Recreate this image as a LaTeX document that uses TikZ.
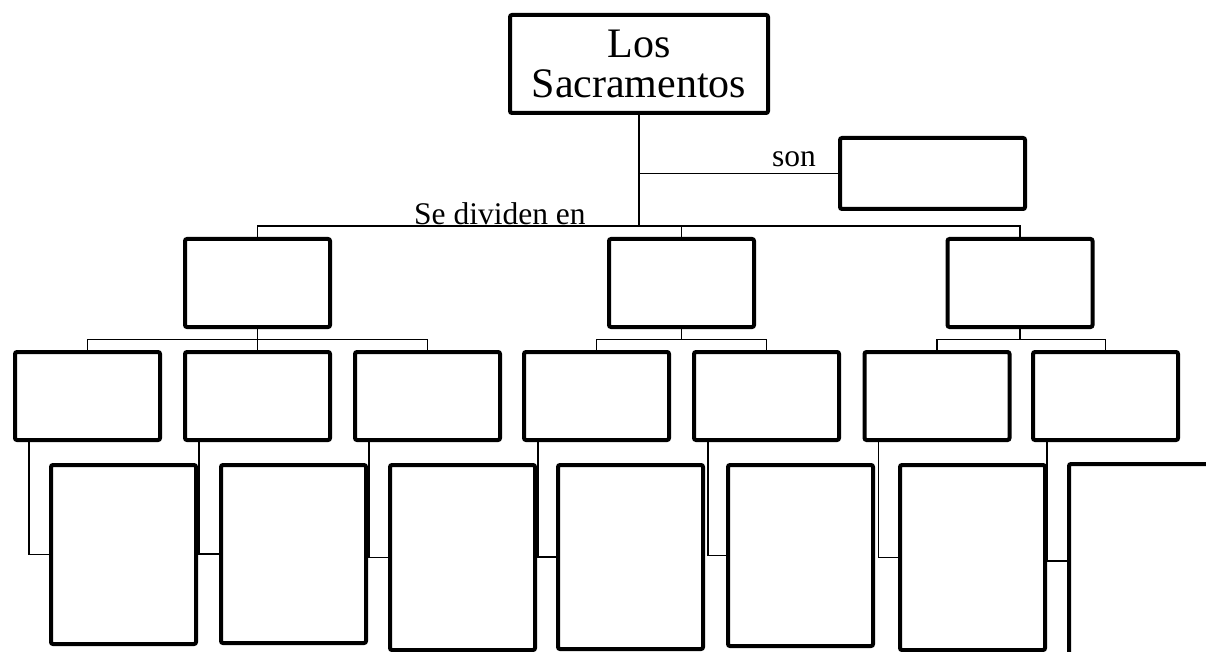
\documentclass[tikz,border=0pt]{standalone}
\usepackage{fontspec}
\setmainfont{Liberation Serif}
\usetikzlibrary{calc}
\begin{document}
\begin{tikzpicture}[x=1pt,y=-1pt,
  box/.style={draw, line width=4pt, rounded corners=2pt, inner sep=0pt,
              minimum width=145pt, minimum height=88pt},
  tallbox/.style={box, minimum height=#1},
  conn/.style={line width=1.4pt},
  lbl/.style={anchor=base west, inner sep=0pt, font=\fontsize{31.5}{34}\selectfont}]
\useasboundingbox (0,0) rectangle (1206,652);
\clip (0,0) rectangle (1206,652);

% root and side box
\node[box, minimum width=258pt, minimum height=98pt, align=center,
      font=\fontsize{42}{40}\selectfont] (top) at (639,64) {Los\\Sacramentos};
\node[box, minimum width=185pt, minimum height=71pt] (son) at (932.5,173.5) {};

% level 1
\node[box] (a) at (257.5,283) {};
\node[box] (b) at (681.5,283) {};
\node[box] (c) at (1020,283) {};

% level 2
\node[box] (a1) at (87.5,396) {};
\node[box] (a2) at (257.5,396) {};
\node[box] (a3) at (427.5,396) {};
\node[box] (b1) at (596.5,396) {};
\node[box] (b2) at (766.5,396) {};
\node[box] (c1) at (937,396) {};
\node[box] (c2) at (1105.5,396) {};

% level 3
\node[tallbox=179pt] (d1) at (123.5,554.5) {};
\node[tallbox=178pt] (d2) at (293.5,554) {};
\node[tallbox=185pt] (d3) at (462.5,557.5) {};
\node[tallbox=184pt] (d4) at (630.5,557) {};
\node[tallbox=181pt] (d5) at (800.5,555.5) {};
\node[tallbox=185pt] (d6) at (972.5,557.5) {};
\node[tallbox=194pt] (d7) at (1141.5,561) {};

% connectors root
\draw[conn] (top.south) -- ++(0,111) coordinate (bar0);
\draw[conn] (top.south |- son.west) -- (son.west);
\foreach \n in {a,b,c} \draw[conn] (bar0) -| (\n.north);

% level1 -> level2
\foreach \p/\cs in {a/{a1,a2,a3}, b/{b1,b2}, c/{c1,c2}}
  \foreach \ch in \cs
    \draw[conn] (\p.south) -- ++(0,10.5) -| (\ch.north);

% level2 -> level3
\foreach \p/\ch in {a1/d1, a2/d2, a3/d3, b1/d4, b2/d5, c1/d6, c2/d7}
  \draw[conn] ([xshift=16pt]\p.south west) |- (\ch.west);

% labels
\node[lbl] (lson) at (772,167) {son};
\node[lbl] (ldiv) at (414,225) {Se dividen en};
\end{tikzpicture}
\end{document}
